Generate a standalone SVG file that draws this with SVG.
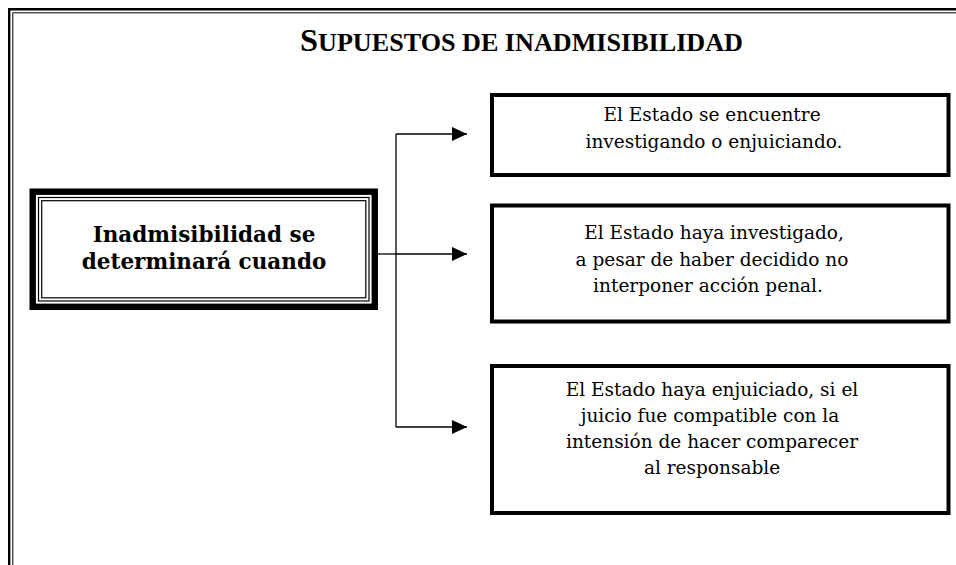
<svg xmlns="http://www.w3.org/2000/svg" width="956" height="565" viewBox="0 0 956 565">
<style>
.frame{fill:none;stroke:#000}
.box{fill:#fff;stroke:#000;stroke-width:4}
.t{font-family:"DejaVu Serif","Liberation Serif",serif;font-size:18.5px;fill:#000;text-anchor:middle}
.tb{font-family:"DejaVu Serif","Liberation Serif",serif;font-size:21.5px;font-weight:bold;fill:#000;text-anchor:middle}
.title{font-family:"Liberation Serif","Times New Roman",serif;font-weight:bold;fill:#000}
.conn{fill:none;stroke:#000;stroke-width:1.3}
</style>
<defs>
<marker id="arr" markerUnits="userSpaceOnUse" markerWidth="16" markerHeight="14" refX="15" refY="7" orient="auto">
<path d="M0,0 L15,7 L0,14 z" fill="#000"/>
</marker>
</defs>
<rect width="956" height="565" fill="#fff"/>
<g id="frame">
<path class="frame" d="M9.2,565 V9.2 H956" stroke-width="2.4"/>
<path class="frame" d="M12.8,565 V12.8 H956" stroke-width="1"/>
</g>
<g id="title">
<text class="title" x="300" y="51" textLength="443" lengthAdjust="spacingAndGlyphs"><tspan font-size="31">S</tspan><tspan font-size="25">UPUESTOS DE INADMISIBILIDAD</tspan></text>
</g>
<g id="connectors">
<path class="conn" d="M378,254 H396"/>
<path class="conn" d="M396,134 V427"/>
<path class="conn" d="M396,134 H467" marker-end="url(#arr)"/>
<path class="conn" d="M396,254 H467" marker-end="url(#arr)"/>
<path class="conn" d="M396,427 H467" marker-end="url(#arr)"/>
</g>
<g id="node-main">
<rect x="32.7" y="191.7" width="342.1" height="115.1" fill="#fff" stroke="#000" stroke-width="6.4"/>
<rect x="38.5" y="197.5" width="330.5" height="103.5" fill="none" stroke="#000" stroke-width="1.2"/>
<rect x="41.7" y="200.7" width="324.1" height="97.1" fill="none" stroke="#000" stroke-width="1.2"/>
<text class="tb" x="204" y="241.5">Inadmisibilidad se</text>
<text class="tb" x="204" y="269">determinará cuando</text>
</g>
<g id="node-1">
<rect class="box" x="492" y="95" width="456.5" height="80"/>
<text class="t" x="712" y="121">El Estado se encuentre</text>
<text class="t" x="714" y="148">investigando o enjuiciando.</text>
</g>
<g id="node-2">
<rect class="box" x="492" y="205.5" width="456.5" height="116"/>
<text class="t" x="714" y="239">El Estado haya investigado,</text>
<text class="t" x="712" y="265.5">a pesar de haber decidido no</text>
<text class="t" x="708" y="292">interponer acción penal.</text>
</g>
<g id="node-3">
<rect class="box" x="492" y="366" width="456.5" height="147"/>
<text class="t" x="712" y="396">El Estado haya enjuiciado, si el</text>
<text class="t" x="710" y="422">juicio fue compatible con la</text>
<text class="t" x="712" y="448">intensión de hacer comparecer</text>
<text class="t" x="712" y="474">al responsable</text>
</g>
</svg>
